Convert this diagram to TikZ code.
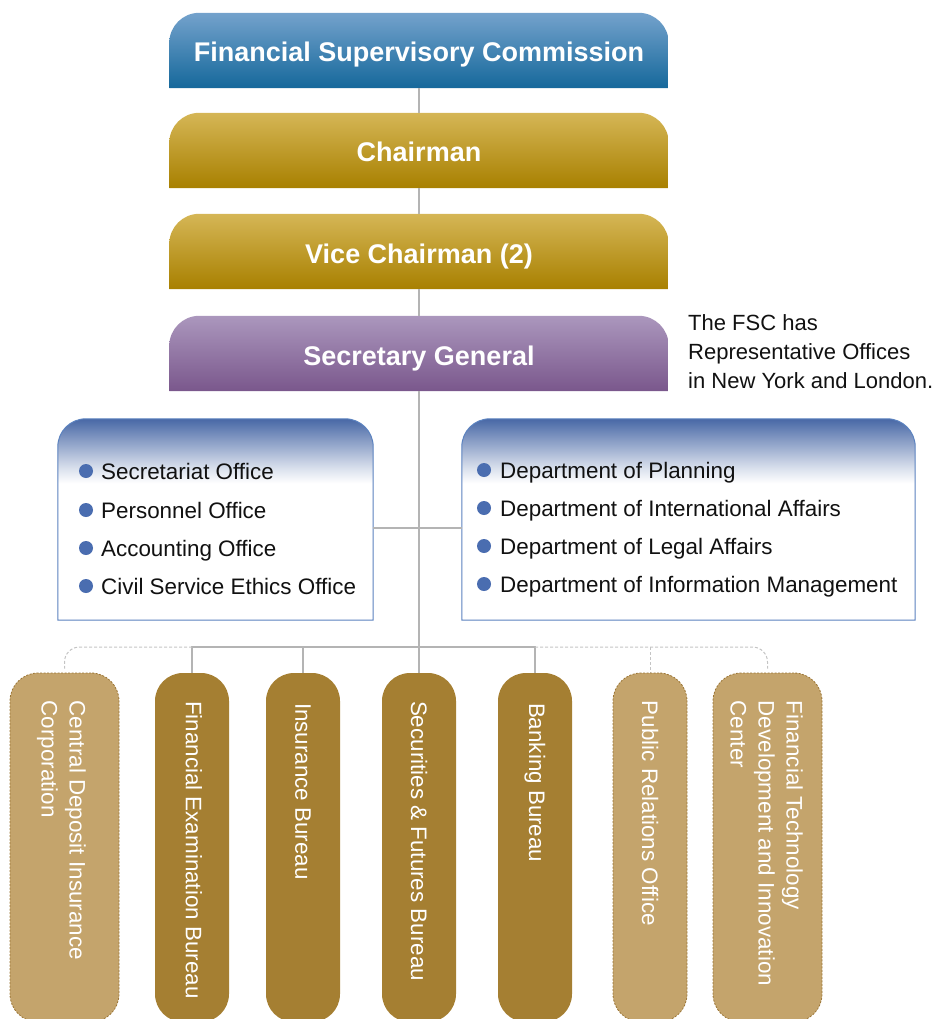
\documentclass[tikz,border=0pt]{standalone}
\usepackage{fontspec}
\setmainfont{Liberation Sans}
\usetikzlibrary{calc}
\pgfdeclarelayer{background}
\pgfsetlayers{background,main}

\definecolor{fscTop}{HTML}{74A2CC}
\definecolor{fscBot}{HTML}{15689B}
\definecolor{goldTop}{HTML}{D5B656}
\definecolor{goldBot}{HTML}{A88000}
\definecolor{plumTop}{HTML}{AB97BD}
\definecolor{plumBot}{HTML}{7A578C}
\definecolor{listBlue}{HTML}{4868A6}
\definecolor{listBorder}{HTML}{5B82BF}
\definecolor{dotBlue}{HTML}{4A6DB0}
\definecolor{bureauGold}{HTML}{A57F32}
\definecolor{agencyTan}{HTML}{C4A46C}
\definecolor{agencyEdge}{HTML}{9C7637}
\definecolor{lineGray}{HTML}{B4B4B4}
\definecolor{dashGray}{HTML}{C4C4C4}
\definecolor{noteText}{HTML}{111111}

% white panel whose top band fades into blue
\pgfdeclareverticalshading{listfade}{100bp}{%
  color(0bp)=(white); color(59bp)=(white); color(63bp)=(listBlue!22);
  color(75bp)=(listBlue); color(100bp)=(listBlue)}

\newcommand\fscTitleFont{\fontsize{27}{32}\selectfont\bfseries}
\newcommand\fscBodyFont{\fontsize{22.4}{29}\selectfont}
\newcommand\fscNoteFont{\fontsize{22}{29}\selectfont}
\newcommand\fscVertFont{\fontsize{22.4}{28}\selectfont}

% box with rounded top corners only, drawn around a named node
\newcommand\roundtop[3]{%
  \path[#3] (#1.south west) -- ([yshift=-#2pt]#1.north west)
    arc[start angle=180,end angle=90,radius=#2pt]
    -- ([xshift=-#2pt]#1.north east)
    arc[start angle=90,end angle=0,radius=#2pt]
    -- (#1.south east) -- cycle;}

\begin{document}
\begin{tikzpicture}[x=1pt,y=-1pt,
  conn/.style={draw=lineGray, line width=1.1pt},
  dconn/.style={draw=dashGray, line width=1pt, dash pattern=on 3pt off 2pt},
  titlebox/.style={rectangle, minimum width=499pt, minimum height=75pt,
    inner sep=0pt, text height=23pt, text depth=0pt, text=white, font=\fscTitleFont},
  listbox/.style={rectangle, minimum height=201pt, inner sep=0pt},
  item/.style={anchor=base west, inner sep=0pt, text=noteText, font=\fscBodyFont},
  dot/.style={circle, fill=dotBlue, minimum size=14pt, inner sep=0pt},
  bureau/.style={rectangle, rounded corners=28pt, minimum width=74pt,
    minimum height=349pt, inner sep=0pt, fill=bureauGold},
  agency/.style={bureau, fill=agencyTan, draw=agencyEdge, line width=0.8pt,
    dash pattern=on 2pt off 1.5pt},
  vtext/.style={rotate=-90, anchor=west, inner sep=0pt, align=left,
    text=white, font=\fscVertFont},
  listshape/.style={shading=listfade, draw=listBorder, line width=1pt}
]
\useasboundingbox (0,0) rectangle (936,1019);

% leadership chain
\node[titlebox] (fsc)    at (419,50.5)  {Financial Supervisory Commission};
\node[titlebox] (chair)  at (419,150.5) {Chairman};
\node[titlebox] (vice)   at (419,251.5) {Vice Chairman (2)};
\node[titlebox] (secgen) at (419,353.5) {Secretary General};

\node[anchor=north west, inner sep=0pt, align=left, text=noteText, font=\fscNoteFont]
  (note) at (688,314) {The FSC has\\Representative Offices\\in New York and London.};

% offices and departments
\node[listbox, minimum width=315pt] (offices) at (215.5,519.5) {};
\node[listbox, minimum width=453pt] (depts)   at (688.5,519.5) {};

\node[dot] (o1d) at (86,471) {}; \node[item] (o1) at (101,479) {Secretariat Office};
\node[dot] (o2d) at (86,510) {}; \node[item] (o2) at (101,518) {Personnel Office};
\node[dot] (o3d) at (86,548) {}; \node[item] (o3) at (101,556) {Accounting Office};
\node[dot] (o4d) at (86,586) {}; \node[item] (o4) at (101,594) {Civil Service Ethics Office};

\node[dot] (d1d) at (484,470) {}; \node[item] (d1) at (500,478) {Department of Planning};
\node[dot] (d2d) at (484,508) {}; \node[item] (d2) at (500,516) {Department of International Affairs};
\node[dot] (d3d) at (484,546) {}; \node[item] (d3) at (500,554) {Department of Legal Affairs};
\node[dot] (d4d) at (484,584) {}; \node[item] (d4) at (500,592) {Department of Information Management};

% bureaus and affiliated bodies
\node[agency, minimum width=109pt] (cdic) at (64.5,847.5) {};
\node[bureau] (finexam) at (192,847.5) {};
\node[bureau] (insur)   at (303,847.5) {};
\node[bureau] (secfut)  at (419,847.5) {};
\node[bureau] (bank)    at (535,847.5) {};
\node[agency] (pro)     at (650,847.5) {};
\node[agency, minimum width=109pt] (fintech) at (767.5,847.5) {};

\node[vtext] (cdicT)    at ([xshift=-3pt,yshift=-28pt]cdic.north) {Central Deposit Insurance\\Corporation};
\node[vtext] (finexamT) at ([xshift=2pt,yshift=-28pt]finexam.north) {Financial Examination Bureau};
\node[vtext] (insurT)   at ([yshift=-30pt]insur.north) {Insurance Bureau};
\node[vtext] (secfutT)  at ([yshift=-28pt]secfut.north) {Securities \& Futures Bureau};
\node[vtext] (bankT)    at ([yshift=-30pt]bank.north) {Banking Bureau};
\node[vtext] (proT)     at ([yshift=-28pt]pro.north) {Public Relations Office};
\node[vtext] (fintechT) at ([xshift=-1pt,yshift=-28pt]fintech.north) {Financial Technology\\Development and Innovation\\Center};

\begin{pgfonlayer}{background}
  \roundtop{fsc}{30}{top color=fscTop, bottom color=fscBot}
  \roundtop{chair}{30}{top color=goldTop, bottom color=goldBot}
  \roundtop{vice}{30}{top color=goldTop, bottom color=goldBot}
  \roundtop{secgen}{30}{top color=plumTop, bottom color=plumBot}
  \roundtop{offices}{28}{listshape}
  \roundtop{depts}{28}{listshape}

  % connectors
  \coordinate (bus) at (419,647);
  \draw[conn] (fsc) -- (chair);
  \draw[conn] (chair) -- (vice);
  \draw[conn] (vice) -- (secgen);
  \draw[conn] (secgen) -- (secfut);
  \draw[conn] ([yshift=-8.5pt]offices.east) -- ([yshift=-8.5pt]depts.west);
  \draw[conn] (finexam.north) -- (finexam.north |- bus) -- (bank.north |- bus) -- (bank.north);
  \draw[conn] (insur.north) -- (insur.north |- bus);
  \draw[dconn, rounded corners=15pt] (finexam.north |- bus) -- (cdic.north |- bus) -- ([yshift=4pt]cdic.north);
  \draw[dconn, rounded corners=15pt] (bank.north |- bus) -- (fintech.north |- bus) -- ([yshift=4pt]fintech.north);
  \draw[dconn] (pro.north |- bus) -- (pro.north);
\end{pgfonlayer}
\end{tikzpicture}
\end{document}
